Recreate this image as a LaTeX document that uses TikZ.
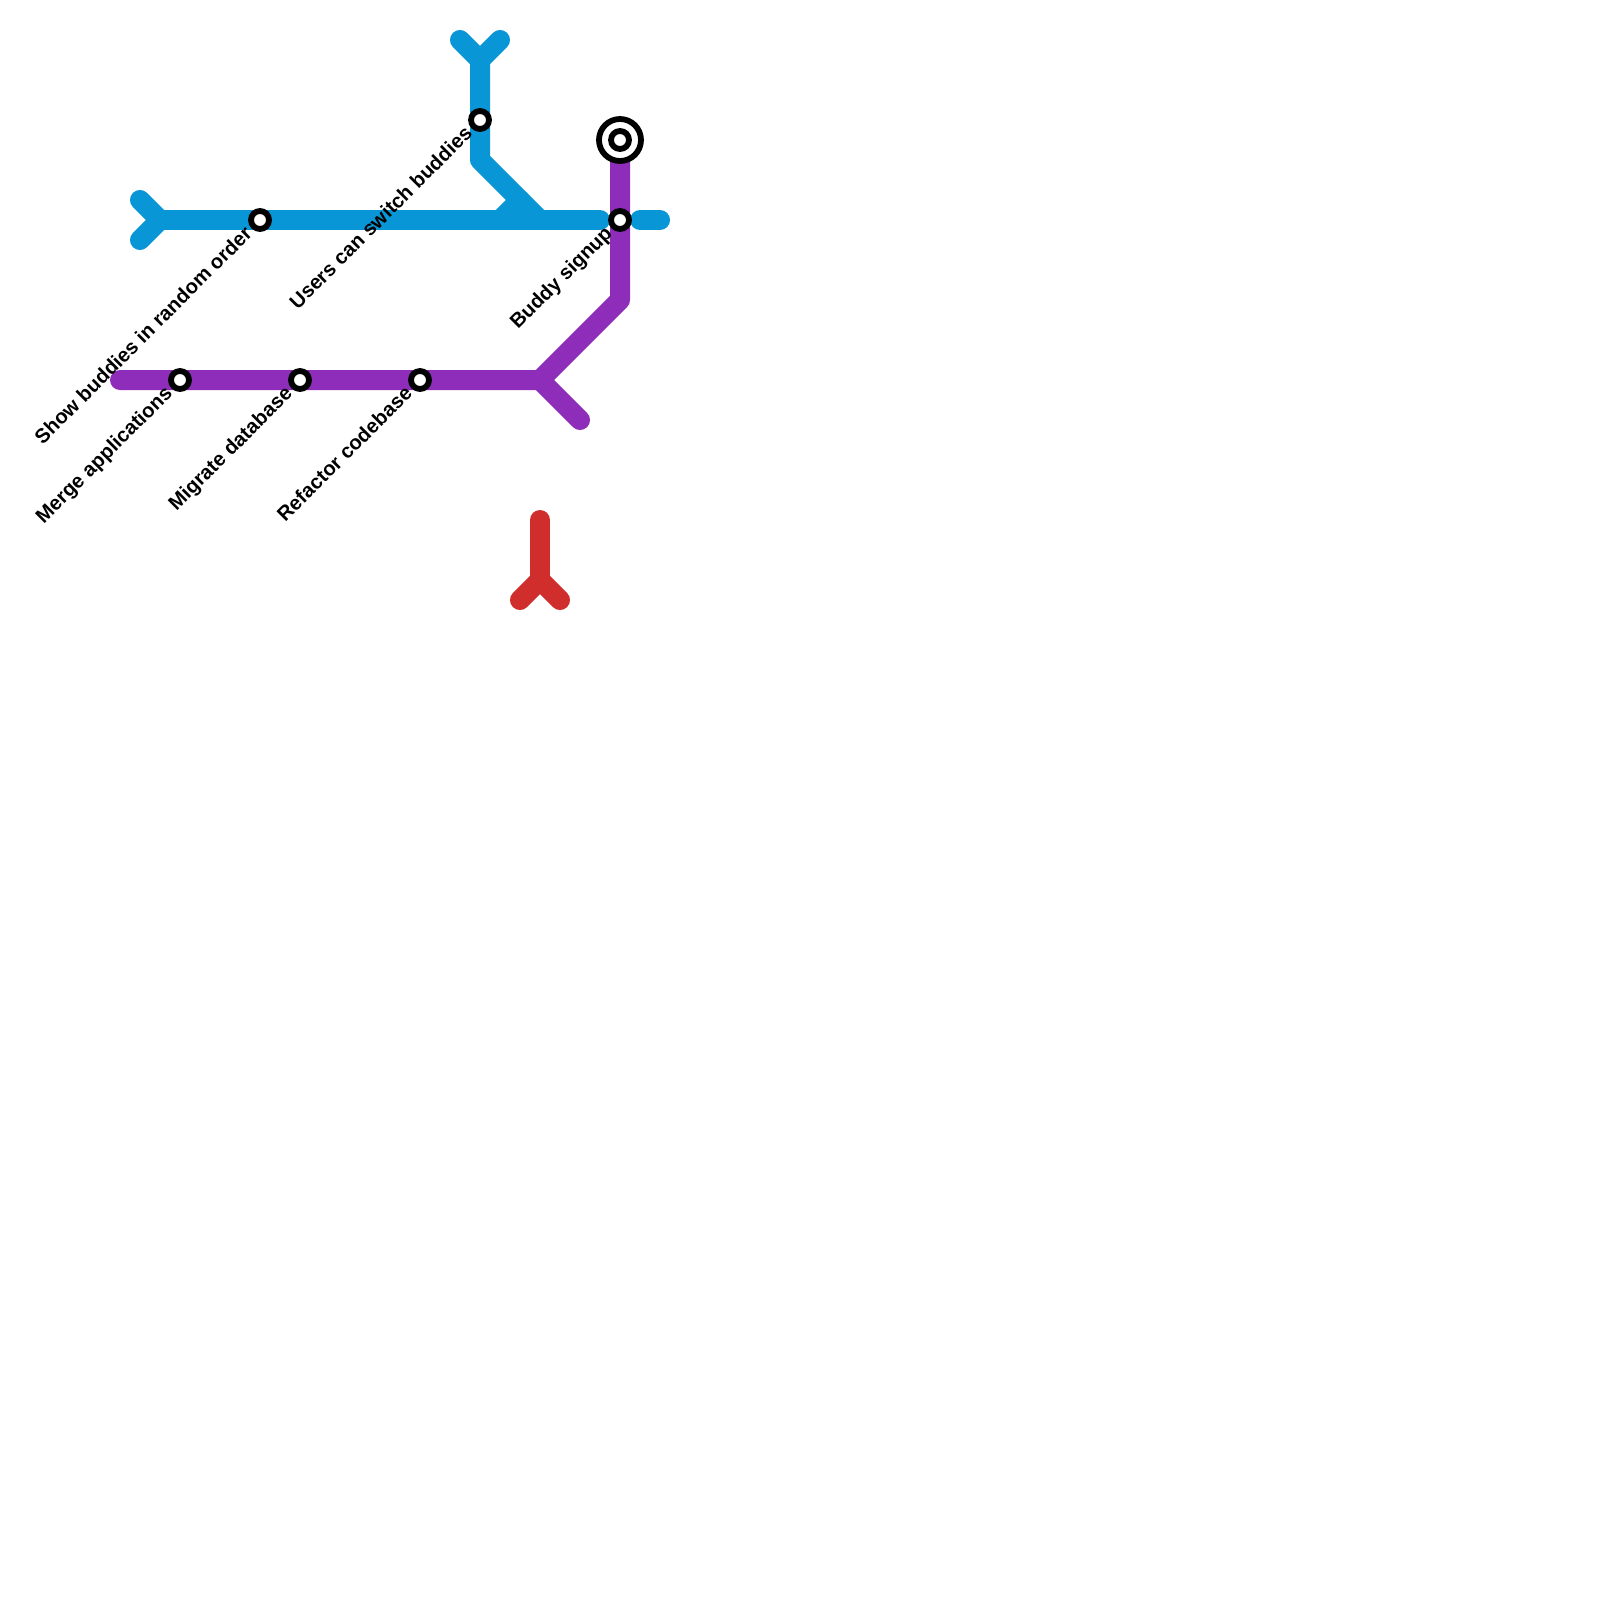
\documentclass[tikz,border=0pt]{standalone}
\usepackage{fontspec}
\setmainfont{Liberation Sans}
\tikzset{
  linepath/.style={line width=10pt,line cap=round,line join=round},
  bluel/.style={linepath,draw=lineblue},
  purplel/.style={linepath,draw=linepurple},
  redl/.style={linepath,draw=linered},
  station/.style={circle,draw=black,fill=white,line width=2.9pt,inner sep=0pt,minimum size=9pt},
  terminal/.style={circle,draw=black,fill=white,line width=2.9pt,inner sep=0pt,minimum size=21pt},
  stationlabel/.style={font=\bfseries\fontsize{10.1}{12}\selectfont,rotate=45,anchor=base east,inner sep=0pt}
}
\definecolor{lineblue}{HTML}{0896D7}
\definecolor{linepurple}{HTML}{8E2DB9}
\definecolor{linered}{HTML}{D02D2D}
\begin{document}
\begin{tikzpicture}[x=0.5pt,y=-0.5pt]
\useasboundingbox (0,0) rectangle (1600,1600);
\fill[white] (0,0) rectangle (1600,1600);
% blue points
\coordinate (bA) at (460,40); \coordinate (bB) at (500,40); \coordinate (bC) at (480,60);
\coordinate (bD) at (480,160); \coordinate (bE) at (540,220);
\coordinate (bF) at (500,220); \coordinate (bG) at (520,200);
\coordinate (bH) at (140,200); \coordinate (bI) at (140,240); \coordinate (bJ) at (160,220);
\coordinate (bK) at (600,220); \coordinate (bL) at (640,220); \coordinate (bM) at (660,220);
% purple points
\coordinate (pA) at (120,380); \coordinate (pB) at (540,380); \coordinate (pC) at (620,300);
\coordinate (pD) at (620,140); \coordinate (pE) at (580,420);
% red points
\coordinate (rA) at (540,520); \coordinate (rB) at (540,580); \coordinate (rC) at (520,600); \coordinate (rD) at (560,600);
% lines
\draw[bluel] (bA) -- (bC) -- (bB);
\draw[bluel] (bC) -- (bD) -- (bE);
\draw[bluel] (bF) -- (bG);
\draw[bluel] (bH) -- (bJ) -- (bI);
\draw[bluel] (bJ) -- (bK);
\draw[bluel] (bL) -- (bM);
\draw[purplel] (pA) -- (pB) -- (pC) -- (pD);
\draw[purplel] (pB) -- (pE);
\draw[redl] (rA) -- (rB);
\draw[redl] (rC) -- (rB) -- (rD);
% stations
\node[terminal] (t0) at (pD) {};
\node[station] (s0) at (pD) {};
\node[station] (s1) at (260,220) {};
\node[station] (s2) at (480,120) {};
\node[station] (s3) at (620,220) {};
\node[station] (s4) at (180,380) {};
\node[station] (s5) at (300,380) {};
\node[station] (s6) at (420,380) {};
% labels
\node[stationlabel] (l1) at (253.5,234.5) {Show buddies in random order};
\node[stationlabel] (l2) at (473.5,134.5) {Users can switch buddies};
\node[stationlabel] (l3) at (613.5,234.5) {Buddy signup};
\node[stationlabel] (l4) at (173.5,394.5) {Merge applications};
\node[stationlabel] (l5) at (293.5,394.5) {Migrate database};
\node[stationlabel] (l6) at (413.5,394.5) {Refactor codebase};
\end{tikzpicture}
\end{document}
